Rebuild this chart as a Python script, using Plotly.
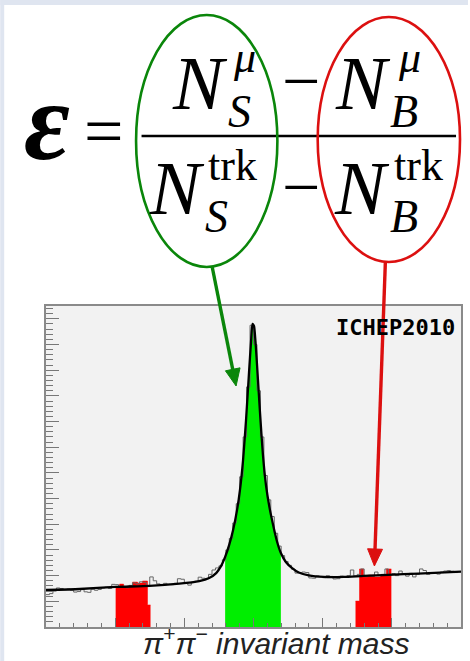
import math
import plotly.graph_objects as go

# ---------------- data ----------------
fit_mass = [0.44000, 0.44978, 0.46014, 0.46993, 0.47856, 0.48432, 0.48719, 0.48921, 0.49065, 0.49180,
            0.49295, 0.49410, 0.49525, 0.49612, 0.49698, 0.49784, 0.49871, 0.49928, 0.49971, 0.50014,
            0.50058, 0.50115, 0.50187, 0.50273, 0.50360, 0.50460, 0.50561, 0.50676, 0.50791, 0.50935,
            0.51108, 0.51309, 0.51597, 0.52029, 0.52604, 0.53180, 0.53899, 0.54763, 0.56000]
fit_counts = [144, 148, 156, 160, 169, 179, 191, 210, 238, 273,
              319, 378, 456, 537, 650, 806, 993, 1110, 1180, 1172,
              1110, 993, 837, 670, 553, 467, 401, 335, 288, 253,
              230, 212, 201, 195, 195, 199, 203, 208, 216]

hist_lo = 0.44
hist_bin = 0.001
hist_counts = [126, 130, 140, 152, 150, 146, 148, 143, 136, 138,
               150, 137, 135, 147, 143, 146, 152, 155, 150, 166,
               165, 154, 158, 153, 162, 172, 168, 176, 174, 160,
               195, 180, 168, 162, 170, 166, 165, 170, 188, 186,
               172, 163, 175, 178, 194, 190, 188, 205, 222, 230,
               238, 262, 300, 345, 405, 480, 585, 740, 935, 1175,
               1100, 920, 740, 590, 495, 430, 365, 315, 278, 255,
               240, 225, 210, 212, 214, 212, 191, 190, 199, 196,
               192, 200, 197, 187, 188, 198, 194, 200, 222, 199,
               205, 226, 196, 201, 198, 214, 200, 205, 226, 203,
               208, 200, 218, 205, 198, 209, 195, 205, 226, 220,
               205, 212, 210, 206, 214, 218, 220, 217, 212, 215]

signal_window = [0.49180, 0.50791]

sb_left_edges = [0.46014, 0.46129, 0.46245, 0.46360, 0.46504, 0.46647, 0.46791, 0.46935, 0.47022]
sb_left_counts = [156, 167, 156, 160, 175, 171, 179, 86]
sb_right_edges = [0.52950, 0.53065, 0.53180, 0.53324, 0.53496, 0.53669, 0.53842, 0.53986]
sb_right_counts = [101, 226, 199, 202, 195, 202, 226]

x_range = [0.44, 0.56]
y_range = [0, 1250]

# ---------------- figure ----------------
W, H = 470, 661
L, R, T, B = 46, 7, 306, 34
PW, PH = W - L - R, H - T - B


def px(x):
    return (x - L) / PW


def py(y):
    return (H - B - y) / PH


fig = go.Figure()

sig_x = [m for m in fit_mass if signal_window[0] <= m <= signal_window[1]]
sig_y = [c for m, c in zip(fit_mass, fit_counts) if signal_window[0] <= m <= signal_window[1]]
fig.add_trace(go.Scatter(x=sig_x, y=sig_y, mode="lines", line=dict(width=0, shape="spline", smoothing=0.6),
                         fill="tozeroy", fillcolor="#00ee00", hoverinfo="skip"))

for edges, counts in ((sb_left_edges, sb_left_counts), (sb_right_edges, sb_right_counts)):
    fig.add_trace(go.Scatter(x=edges, y=counts + [counts[-1]], mode="lines",
                             line=dict(width=0.5, color="#ff0000", shape="hv"),
                             fill="tozeroy", fillcolor="#ff0000", hoverinfo="skip"))

h_edges = [hist_lo + i * hist_bin for i in range(len(hist_counts) + 1)]
fig.add_trace(go.Scatter(x=h_edges, y=hist_counts + [hist_counts[-1]], mode="lines",
                         line=dict(width=1, color="#666666", shape="hv"), hoverinfo="skip"))

fig.add_trace(go.Scatter(x=fit_mass, y=fit_counts, mode="lines",
                         line=dict(width=2.3, color="black", shape="spline", smoothing=0.6), hoverinfo="skip"))

axis_common = dict(showline=True, mirror=True, linecolor="#8a8a8a", linewidth=1.5,
                   showgrid=False, zeroline=False, showticklabels=False,
                   ticks="inside", tickcolor="#777777", tickwidth=1.2)
fig.update_xaxes(range=x_range, tick0=0.44, dtick=0.02, ticklen=9,
                 minor=dict(dtick=0.004, ticklen=4, ticks="inside", tickcolor="#777777", tickwidth=1, showgrid=False),
                 **axis_common)
fig.update_yaxes(range=y_range, tick0=0, dtick=100, ticklen=13,
                 minor=dict(dtick=20, ticklen=7, ticks="inside", tickcolor="#777777", tickwidth=1, showgrid=False),
                 **axis_common)

GREEN = "#0a860a"
RED = "#dc1010"

shapes = [
    # page edge strips
    dict(type="rect", xref="paper", yref="paper", x0=px(0), x1=px(W), y0=py(5), y1=py(0),
         fillcolor="#dfe5f0", line=dict(width=0), layer="above"),
    dict(type="rect", xref="paper", yref="paper", x0=px(0), x1=px(4), y0=py(H), y1=py(0),
         fillcolor="#dfe5f0", line=dict(width=0), layer="above"),
    # fraction bar
    dict(type="line", xref="paper", yref="paper", x0=px(142), x1=px(458), y0=py(136), y1=py(136),
         line=dict(color="black", width=2.6)),
    # ellipses
    dict(type="circle", xref="paper", yref="paper", x0=px(136.5), x1=px(278.5), y0=py(267), y1=py(15),
         line=dict(color=GREEN, width=2.6)),
    dict(type="circle", xref="paper", yref="paper", x0=px(319), x1=px(462), y0=py(262), y1=py(17),
         line=dict(color=RED, width=2.6)),
]


def arrow(tail, tip, color, head_len=17, half_w=7.5, width=3.4):
    dx, dy = tip[0] - tail[0], tip[1] - tail[1]
    n = math.hypot(dx, dy)
    ux, uy = dx / n, dy / n
    bx, by = tip[0] - head_len * ux, tip[1] - head_len * uy
    nx, ny = uy, -ux
    c1 = (bx + half_w * nx, by + half_w * ny)
    c2 = (bx - half_w * nx, by - half_w * ny)
    shapes.append(dict(type="line", xref="paper", yref="paper",
                       x0=px(tail[0]), y0=py(tail[1]), x1=px(bx + 2 * ux), y1=py(by + 2 * uy),
                       line=dict(color=color, width=width), layer="above"))
    path = "M{},{} L{},{} L{},{} Z".format(px(tip[0]), py(tip[1]), px(c1[0]), py(c1[1]), px(c2[0]), py(c2[1]))
    shapes.append(dict(type="path", xref="paper", yref="paper", path=path,
                       fillcolor=color, line=dict(color=color, width=1), layer="above"))


arrow((213, 267), (237, 386), GREEN)
arrow((387, 262), (376, 566), RED)

serif = "Liberation Serif, DejaVu Serif, serif"
ann = []


def txt(t, x, y, size, family=serif, color="black"):
    ann.append(dict(text=t, x=px(x), y=py(y), xref="paper", yref="paper", showarrow=False,
                    xanchor="center", yanchor="middle", font=dict(family=family, size=size, color=color)))


txt("<b><i>ε</i></b>", 47, 121, 112)
txt("=", 104, 132, 70)
txt("−", 302, 81, 68)
txt("−", 302, 187, 68)
txt("<i>N</i>", 201, 83, 76)
txt("<i>N</i>", 365, 83, 76)
txt("<i>N</i>", 178, 188, 76)
txt("<i>N</i>", 364, 188, 76)
txt("<i>μ</i>", 245, 57, 44)
txt("<i>μ</i>", 411, 57, 44)
txt("<i>S</i>", 240, 112, 46)
txt("<i>B</i>", 406, 112, 46)
txt("trk", 233, 165, 44)
txt("trk", 420, 165, 44)
txt("<i>S</i>", 217, 216, 46)
txt("<i>B</i>", 406, 216, 46)
txt("<b>ICHEP2010</b>", 397, 327, 22, family="DejaVu Sans Mono, monospace")
txt("<i>π<sup>+</sup>π<sup>−</sup> invariant mass</i>", 278, 641, 30, family="Liberation Sans, Arial, sans-serif",
    color="#222222")

fig.update_layout(width=W, height=H, autosize=False,
                  margin=dict(l=L, r=R, t=T, b=B, pad=0),
                  paper_bgcolor="white", plot_bgcolor="#f2f2f2",
                  showlegend=False, shapes=shapes, annotations=ann)

fig.write_html("out.html")
